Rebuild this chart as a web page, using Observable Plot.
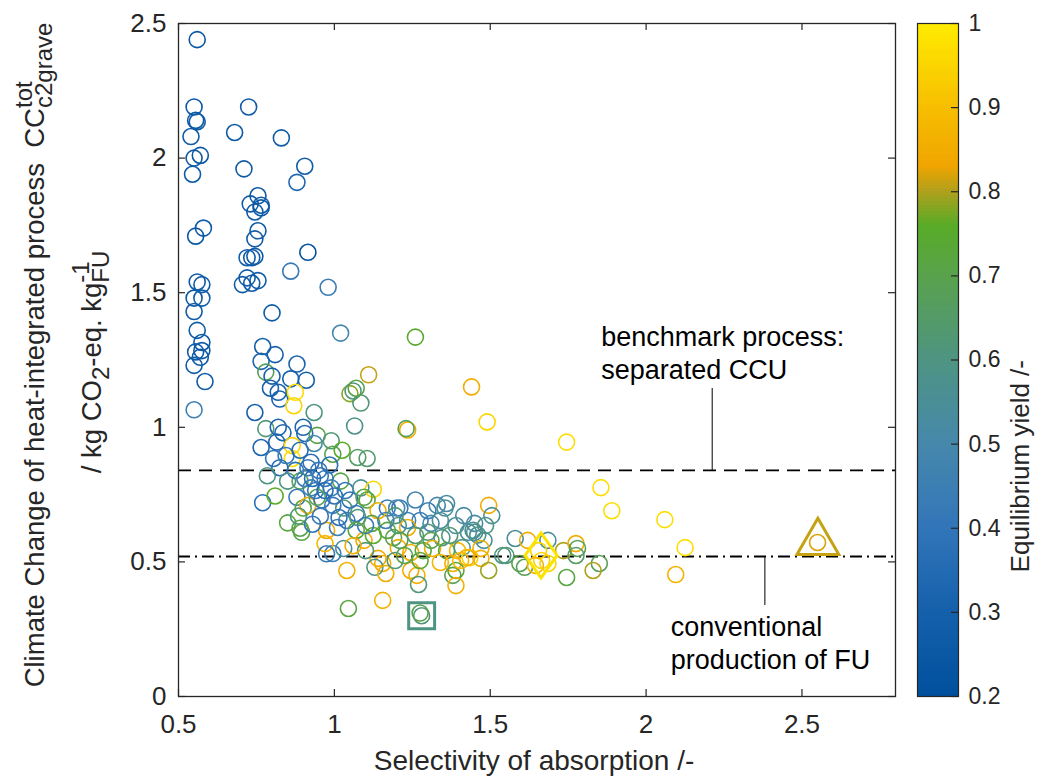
<!DOCTYPE html>
<html><head><meta charset="utf-8">
<script src="https://cdn.jsdelivr.net/npm/d3@7"></script>
<script src="https://cdn.jsdelivr.net/npm/@observablehq/plot@0.6"></script>
<style>
body{margin:0;background:#fff;}
#wrap{position:relative;width:1044px;height:776px;}
#wrap svg{position:absolute;top:0;}
</style></head><body><div id="wrap"></div>
<script>
// ---------- data ----------
const selectivity = [
0.56,0.55,0.555,0.56,0.54,0.55,0.57,0.545,0.58,0.555,0.56,0.575,0.55,0.575,0.55,0.56,0.575,0.555,0.575,0.57,0.55,0.585,0.55,
0.725,0.68,0.83,0.71,0.905,0.88,0.755,0.73,0.765,0.745,0.765,0.755,0.745,0.72,0.745,0.735,0.915,0.86,0.98,0.72,0.755,0.705,0.735,0.80,1.02,0.77,0.81,0.765,0.78,0.88,0.80,0.86,0.91,0.795,0.82,0.825,0.875,0.87,0.745,0.935,1.05,1.06,1.085,1.11,1.07,1.26,1.44,1.49,1.745,1.235,1.23,1.065,
0.78,0.82,0.835,0.90,0.905,0.945,0.765,0.815,0.865,0.935,0.99,1.025,0.995,1.075,1.105,0.805,0.865,0.825,0.785,0.915,0.955,0.89,0.77,0.81,0.88,0.925,0.99,1.02,0.90,0.915,0.85,0.895,0.89,0.975,1.01,1.04,
0.875,0.925,0.95,0.97,0.94,0.905,0.96,0.995,0.955,0.93,0.845,0.89,0.85,0.985,1.035,1.05,1.03,1.07,0.945,0.885,
1.085,1.125,1.095,1.105,1.17,1.21,1.14,1.33,1.36,1.415,1.235,1.275,1.015,1.075,1.20,1.235,1.30,1.345,1.355,1.445,1.46,1.495,1.31,1.12,1.17,1.19,1.095,1.125,1.205,1.245,1.285,1.315,1.36,1.395,1.41,1.435,1.47,1.54,1.03,0.995,1.14,1.155,1.13,1.165,1.245,1.265,1.27,1.38,1.39,1.38,1.495,1.39,1.04,1.155,1.045,1.28,1.275,
1.45,1.43,1.45,1.48,1.58,1.62,1.685,1.655,1.665,1.55,1.595,1.61,1.645,1.685,1.735,1.775,1.78,1.775,1.85,1.83,1.745,1.425,1.405,1.855,1.89,2.06,2.125,2.095,1.47,2.55,
1.26,1.30,1.34,1.39,1.205,1.165,1.195,1.37,1.31,1.26,1.21,1.10,1.07,1.10,1.06,1.275,1.34,1.195,1.225,1.505,1.485,0.93,0.97,1.0,0.97,0.975
];
const climateChange = [
2.44,2.19,2.14,2.135,2.08,2.00,2.01,1.94,1.74,1.71,1.54,1.53,1.48,1.48,1.43,1.36,1.315,1.28,1.285,1.26,1.23,1.17,1.065,
2.19,2.095,2.075,1.96,1.97,1.91,1.86,1.83,1.825,1.80,1.815,1.73,1.70,1.63,1.635,1.63,1.65,1.58,1.52,1.555,1.545,1.53,1.535,1.425,1.35,1.30,1.27,1.245,1.205,1.235,1.19,1.18,1.175,1.145,1.13,1.105,1.13,1.08,1.055,1.055,1.125,1.135,1.09,1.195,1.145,1.335,1.15,1.02,0.945,0.99,0.995,1.005,
0.995,1.0,0.98,1.0,0.977,0.97,0.925,0.945,0.932,0.94,0.95,0.915,0.90,0.888,0.884,0.884,0.884,0.85,0.82,0.85,0.82,0.80,0.72,0.745,0.74,0.775,0.775,0.80,0.70,0.71,0.645,0.61,0.625,0.617,0.628,0.654,
0.84,0.87,0.84,0.81,0.765,0.81,0.73,0.71,0.67,0.64,0.895,0.915,0.80,0.86,0.765,0.73,0.70,0.68,0.74,0.67,
0.775,0.77,0.74,0.73,0.70,0.70,0.69,0.71,0.717,0.672,0.654,0.654,0.665,0.665,0.70,0.628,0.61,0.59,0.70,0.617,0.60,0.71,0.643,0.643,0.617,0.59,0.58,0.598,0.553,0.535,0.542,0.55,0.542,0.542,0.553,0.516,0.513,0.524,0.55,0.531,0.513,0.494,0.48,0.457,0.468,0.45,0.416,0.494,0.468,0.45,0.468,0.412,0.468,0.357,0.327,0.30,0.31,
0.643,0.61,0.61,0.58,0.587,0.58,0.58,0.542,0.505,0.524,0.494,0.48,0.487,0.494,0.542,0.568,0.55,0.524,0.494,0.468,0.442,0.516,0.505,0.776,0.69,0.657,0.553,0.453,0.55,0.572,
0.73,0.69,0.654,0.635,0.635,0.654,0.672,0.598,0.58,0.598,0.58,0.635,0.617,0.542,0.56,0.505,0.498,0.505,0.524,0.672,0.635,0.81,0.765,0.745,0.568,0.53
];
const equilibriumYield = [
0.24,0.25,0.25,0.27,0.27,0.26,0.25,0.26,0.27,0.25,0.27,0.27,0.26,0.28,0.27,0.26,0.27,0.27,0.26,0.27,0.28,0.28,0.45,
0.27,0.26,0.27,0.26,0.28,0.33,0.26,0.27,0.26,0.27,0.25,0.27,0.27,0.28,0.26,0.27,0.21,0.42,0.44,0.28,0.28,0.27,0.27,0.27,0.5,0.28,0.3,0.32,0.68,0.32,0.3,0.3,0.3,0.3,0.3,0.32,0.97,0.95,0.3,0.6,0.78,0.62,0.62,0.81,0.7,0.74,0.85,0.95,0.97,0.85,0.68,0.58,
0.62,0.32,0.33,0.33,0.35,0.7,0.32,0.33,0.95,0.5,0.62,0.76,0.7,0.66,0.64,0.4,0.97,0.35,0.6,0.4,0.42,0.7,0.38,0.76,0.42,0.45,0.45,0.7,0.72,0.85,0.72,0.72,0.7,0.85,0.45,0.42,
0.38,0.37,0.4,0.42,0.4,0.45,0.4,0.43,0.42,0.4,0.42,0.36,0.6,0.38,0.4,0.38,0.62,0.43,0.68,0.62,
0.55,0.95,0.7,0.72,0.42,0.42,0.85,0.5,0.52,0.52,0.45,0.42,0.38,0.62,0.5,0.85,0.62,0.6,0.55,0.55,0.58,0.85,0.5,0.7,0.72,0.7,0.85,0.75,0.85,0.85,0.72,0.85,0.72,0.88,0.6,0.95,0.86,0.6,0.55,0.45,0.85,0.86,0.6,0.85,0.85,0.86,0.62,0.86,0.72,0.7,0.79,0.86,0.86,0.87,0.72,0.62,0.7,
0.52,0.55,0.58,0.55,0.55,0.85,0.55,0.95,0.95,0.62,0.7,0.68,0.86,0.95,0.8,0.85,0.68,0.66,0.68,0.8,0.72,0.86,0.88,0.97,0.97,0.97,0.97,0.87,0.85,0.82,
0.48,0.45,0.55,0.55,0.6,0.45,0.62,0.62,0.7,0.65,0.68,0.42,0.72,0.62,0.85,0.72,0.88,0.62,0.7,0.55,0.6,0.35,0.35,0.38,0.88,0.42
];
// highlighted designs (square, diamond, triangle markers)
const highlightSel = [1.28, 1.663, 2.551];
const highlightCC = [0.30, 0.524, 0.572];
const highlightYield = [0.6, 0.98, 0.81];
// reference levels
const benchmarkCC = 0.84;
const conventionalCC = 0.52;
// ticks
const xTicks = [0.5, 1, 1.5, 2, 2.5];
const yTicks = [0, 0.5, 1, 1.5, 2, 2.5];
const cbTicks = [0.2, 0.3, 0.4, 0.5, 0.6, 0.7, 0.8, 0.9, 1];
const cbTickLabels = ["0.2","0.3","0.4","0.5","0.6","0.7","0.8","0.9","1"];
// colormap
const cmapStops  = [0.2, 0.3, 0.4, 0.5, 0.6, 0.7, 0.76, 0.8, 0.83, 0.9, 1.0];
const cmapColors = ["#00509d","#1560ab","#3275b9","#4688ab","#4e9482","#59a24c","#58ab26","#b0a01c","#f0a500","#f7be00","#ffec00"];

// ---------- chart ----------
const FONT = "'Liberation Sans', Arial, Helvetica, sans-serif";
const INK = "#262626";
const W = 1044, H = 776, mL = 178, mR = 149, mT = 23, mB = 80;
const xDomain = [0.5, 2.8], yDomain = [0, 2.5];
const tickLenX = 7 / (W - mL - mR) * (xDomain[1] - xDomain[0]);
const tickLenY = 7 / (H - mT - mB) * (yDomain[1] - yDomain[0]);

const points = selectivity.map((s, i) => ({sel: s, cc: climateChange[i], yld: equilibriumYield[i]}));
const highlights = highlightSel.map((s, i) => ({sel: s, cc: highlightCC[i], yld: highlightYield[i]}));

const colorOpts = {type: "linear", domain: cmapStops, range: cmapColors, interpolate: "rgb"};

const tallDiamond = {draw(ctx, size) {
  const r = Math.sqrt(size / Math.PI), w = r * 0.71;
  ctx.moveTo(0, -r); ctx.lineTo(w, 0); ctx.lineTo(0, r); ctx.lineTo(-w, 0); ctx.closePath();
}};

const main = Plot.plot({
  width: W, height: H, marginLeft: mL, marginRight: mR, marginTop: mT, marginBottom: mB,
  style: {fontFamily: FONT, background: "transparent", color: INK},
  x: {domain: xDomain},
  y: {domain: yDomain},
  color: colorOpts,
  marks: [
    Plot.axisX(xTicks, {tickSize: 0, tickPadding: 18, fontSize: 26, tickFormat: d => String(d), label: null, fill: INK}),
    Plot.axisY(yTicks, {tickSize: 0, tickPadding: 12, fontSize: 26, tickFormat: d => String(d), label: null, fill: INK}),
    Plot.ruleY([benchmarkCC], {stroke: "#000", strokeWidth: 1.8, strokeDasharray: "13,8"}),
    Plot.ruleY([conventionalCC], {stroke: "#000", strokeWidth: 1.8, strokeDasharray: "12,5,2,5"}),
    Plot.ruleX([2.212], {y1: benchmarkCC, y2: 1.144, stroke: "#000", strokeWidth: 1}),
    Plot.ruleX([2.381], {y1: conventionalCC, y2: 0.338, stroke: "#000", strokeWidth: 1}),
    Plot.dot(points, {x: "sel", y: "cc", stroke: "yld", r: 8, strokeWidth: 1.6, fill: "none"}),
    Plot.dot(highlights.slice(0, 1), {x: "sel", y: "cc", stroke: "yld", symbol: "square2", r: 16.5, strokeWidth: 3, fill: "none"}),
    Plot.dot(highlights.slice(1, 2), {x: "sel", y: "cc", stroke: "yld", symbol: tallDiamond, r: 22.5, strokeWidth: 3, fill: "none"}),
    Plot.dot(highlights.slice(2, 3), {x: "sel", y: "cc", stroke: "yld", symbol: "triangle2", r: 20, strokeWidth: 3, fill: "none"}),
    Plot.text(["benchmark process:\nseparated CCU"], {x: 1.856, y: 1.181, text: d => d, textAnchor: "start", lineAnchor: "bottom", lineHeight: 1.21, fontSize: 27, fill: "#000"}),
    Plot.text(["conventional\nproduction of FU"], {x: 2.079, y: 0.104, text: d => d, textAnchor: "start", lineAnchor: "bottom", lineHeight: 1.21, fontSize: 27, fill: "#000"}),
    Plot.text(["Selectivity of absorption /-"], {frameAnchor: "bottom", dy: 73, dx: -3, text: d => d, lineAnchor: "bottom", fontSize: 28, fill: INK}),
    Plot.ruleX(xTicks, {y1: yDomain[0], y2: yDomain[0] + tickLenY, stroke: INK, strokeWidth: 1.2}),
    Plot.ruleX(xTicks, {y1: yDomain[1] - tickLenY, y2: yDomain[1], stroke: INK, strokeWidth: 1.2}),
    Plot.ruleY(yTicks, {x1: xDomain[0], x2: xDomain[0] + tickLenX, stroke: INK, strokeWidth: 1.2}),
    Plot.ruleY(yTicks, {x1: xDomain[1] - tickLenX, x2: xDomain[1], stroke: INK, strokeWidth: 1.2}),
    Plot.frame({stroke: INK, strokeWidth: 1.3})
  ]
});

// colorbar
const cbLeft = 900, cbW = 144, cbML = 17, cbMR = 86;
const cbSteps = d3.range(0, 200).map(i => 0.2 + i * 0.004);
const cbTickLen = 7 / (cbW - cbML - cbMR);
const cbar = Plot.plot({
  width: cbW, height: H, marginLeft: cbML, marginRight: cbMR, marginTop: mT, marginBottom: mB,
  style: {fontFamily: FONT, background: "transparent", color: INK, overflow: "visible"},
  x: {domain: [0, 1], axis: null},
  y: {domain: [0.2, 1]},
  color: colorOpts,
  marks: [
    Plot.rect(cbSteps, {x1: 0, x2: 1, y1: d => d, y2: d => Math.min(1, d + 0.008), fill: d => d + 0.002, shapeRendering: "crispEdges"}),
    Plot.axisY(cbTicks, {anchor: "right", tickSize: 0, tickPadding: 10, fontSize: 23, tickFormat: (d, i) => cbTickLabels[i], label: null, fill: INK}),
    Plot.ruleY(cbTicks, {x1: 1 - cbTickLen, x2: 1, stroke: INK, strokeWidth: 1.2}),
    Plot.frame({stroke: INK, strokeWidth: 1.2}),
    Plot.text(["Equilibrium yield /-"], {frameAnchor: "right", dx: 62, rotate: -90, text: d => d, lineAnchor: "middle", fontSize: 26, fill: INK})
  ]
});
cbar.style.left = cbLeft + "px";

const wrap = document.getElementById("wrap");
wrap.append(main, cbar);

// rich two-line y label
const sv = d3.select(main);
function addRich(x, yc, fs, sfs, segs) {
  const g = sv.append("g").attr("transform", `translate(${x},${yc}) rotate(-90)`)
    .attr("font-family", FONT).attr("fill", INK).attr("text-anchor", "start");
  const t = g.append("text").attr("font-size", fs).attr("text-anchor", "start");
  let level = 0, lastW = 0;
  segs.forEach(s => {
    const ts = t.append("tspan").text(s.t);
    const target = s.pos === "sup" ? -0.42 * fs : s.pos === "sub" ? 0.3 * fs : 0;
    if (target - level) ts.attr("dy", target - level);
    level = target;
    if (s.pos) ts.attr("font-size", sfs);
    if (s.stack) ts.attr("dx", -lastW);
    lastW = ts.node().getComputedTextLength();
  });
  const w = t.node().getBBox().width;
  t.attr("x", -w / 2);
}
addRich(44, 355, 27.5, 24, [
  {t: "Climate Change of heat-integrated process\u00a0\u00a0CC"},
  {t: "tot", pos: "sup"},
  {t: "c2grave", pos: "sub", stack: true}
]);
addRich(101, 362, 27.5, 24, [
  {t: "/ kg CO"},
  {t: "2", pos: "sub"},
  {t: "-eq. kg"},
  {t: "-1", pos: "sup"},
  {t: "FU", pos: "sub", stack: true}
]);
</script>
</body></html>
